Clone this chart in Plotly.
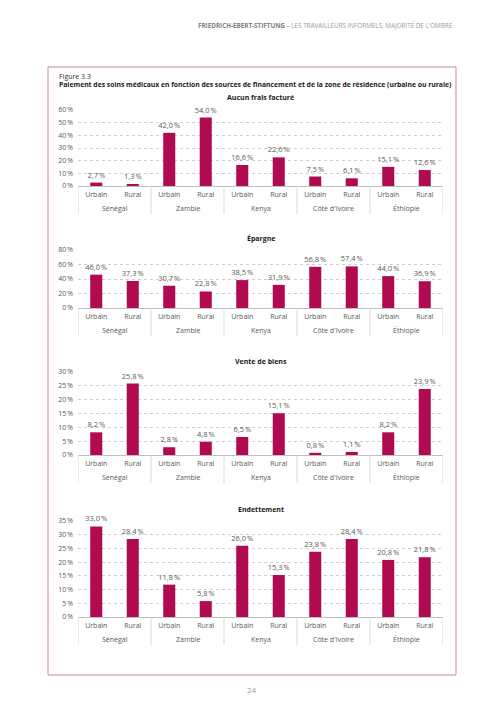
import plotly.graph_objects as go

countries = ["Sénégal", "Zambie", "Kenya", "Côte d'Ivoire", "Éthiopie"]
zones = ["Urbain", "Rural"]

panel_titles = ["Aucun frais facturé", "Épargne", "Vente de biens", "Endettement"]
aucun_frais = [2.7, 1.3, 42.0, 54.0, 16.6, 22.6, 7.5, 6.1, 15.1, 12.6]
epargne = [46.0, 37.3, 30.7, 22.8, 38.5, 31.9, 56.8, 57.4, 44.0, 36.9]
vente_biens = [8.2, 25.8, 2.8, 4.8, 6.5, 15.1, 0.8, 1.1, 8.2, 23.9]
endettement = [33.0, 28.4, 11.8, 5.8, 26.0, 15.3, 23.8, 28.4, 20.8, 21.8]

y_max = [60, 80, 30, 35]
y_step = [10, 20, 5, 5]

series = [aucun_frais, epargne, vente_biens, endettement]

W, H = 504, 712
FONT = "Open Sans"
BAR = "#B00A50"
GREY = "#595959"
DIV = "#d9d9d9"

# panel vertical placement in pixels (top of plot, bottom of plot, title y)
panel_px = [(110, 186, 98), (250, 308, 238), (372, 455, 361), (521, 617, 509)]
x_left, x_right = 78, 443

cats = [c + " | " + z for c in countries for z in zones]
inner = [z for _ in countries for z in zones]

def fmt(v):
    return f"{v:.1f}".replace(".", ",") + "\u202f%"

fig = go.Figure()
layout = dict(
    width=W, height=H,
    margin=dict(l=0, r=0, t=0, b=0, pad=0, autoexpand=False),
    paper_bgcolor="white", plot_bgcolor="white",
    showlegend=False,
    font=dict(family=FONT, size=7, color=GREY),
    annotations=[], shapes=[],
)

for i, vals in enumerate(series):
    n = "" if i == 0 else str(i + 1)
    xr, yr = "x" + n, "y" + n
    top, bot, ty = panel_px[i]
    fig.add_trace(go.Bar(
        x=cats, y=vals,
        marker=dict(color=BAR, line=dict(width=0)),
        text=[fmt(v) for v in vals], textposition="outside",
        constraintext="none",
        textfont=dict(size=7.5, color=GREY, family=FONT),
        cliponaxis=False, width=0.33,
        xaxis=xr, yaxis=yr,
    ))
    layout["xaxis" + n] = dict(
        type="category",
        categoryorder="array", categoryarray=cats,
        range=[-0.5, len(cats) - 0.5],
        domain=[x_left / W, x_right / W],
        anchor=yr,
        tickvals=cats, ticktext=inner,
        showline=True, linecolor="#bfbfbf", linewidth=1,
        showgrid=False, ticks="",
        tickfont=dict(size=7, color=GREY, family=FONT),
        ticklabelstandoff=2,
        automargin=False,
        fixedrange=True,
    )
    layout["yaxis" + n] = dict(
        domain=[1 - bot / H, 1 - top / H],
        anchor=xr,
        range=[0, y_max[i]],
        dtick=y_step[i], tick0=0,
        ticksuffix="\u202f%",
        showgrid=True, gridcolor="#cfcfcf", griddash="dot", gridwidth=1,
        zeroline=False, showline=False, ticks="",
        tickfont=dict(size=7, color=GREY, family=FONT),
        ticklabelstandoff=4,
        automargin=False,
        fixedrange=True,
    )
    layout["annotations"].append(dict(
        text="<b>" + panel_titles[i] + "</b>",
        x=(x_left + x_right) / 2 / W, y=1 - ty / H,
        xref="paper", yref="paper", showarrow=False,
        xanchor="center", yanchor="middle",
        font=dict(size=7, color="#1a1a1a", family=FONT),
    ))
    # country group labels and dividers
    for k, c in enumerate(countries):
        layout["annotations"].append(dict(
            text=c, x=k * len(zones) + (len(zones) - 1) / 2, y=1 - (bot + 22) / H,
            xref=xr, yref="paper", showarrow=False,
            xanchor="center", yanchor="middle",
            font=dict(size=7, color=GREY, family=FONT),
        ))
    for k in range(len(countries) + 1):
        layout["shapes"].append(dict(
            type="line", xref=xr, yref="paper",
            x0=k * len(zones) - 0.5, x1=k * len(zones) - 0.5,
            y0=1 - bot / H, y1=1 - (bot + 28) / H,
            line=dict(color=DIV, width=1),
        ))

# frame box
layout["shapes"].append(dict(
    type="rect", xref="paper", yref="paper",
    x0=48 / W, x1=456 / W, y0=1 - 675 / H, y1=1 - 67 / H,
    line=dict(color="#c9869f", width=1), fillcolor="rgba(0,0,0,0)",
))

layout["annotations"] += [
    dict(text="<b>FRIEDRICH-EBERT-STIFTUNG</b> <span style='color:#9a9a9a'>– LES TRAVAILLEURS INFORMELS, MAJORITÉ DE L'OMBRE</span>",
         x=455 / W, y=1 - 25 / H, xref="paper", yref="paper", showarrow=False,
         xanchor="right", yanchor="middle", font=dict(size=6.3, color="#808080", family=FONT)),
    dict(text="Figure 3.3", x=57 / W, y=1 - 76 / H, xref="paper", yref="paper",
         showarrow=False, xanchor="left", yanchor="middle",
         font=dict(size=7, color="#333333", family=FONT)),
    dict(text="<b>Paiement des soins médicaux en fonction des sources de financement et de la zone de résidence (urbaine ou rurale)</b>",
         x=57 / W, y=1 - 85 / H, xref="paper", yref="paper",
         showarrow=False, xanchor="left", yanchor="middle",
         font=dict(size=6.8, color="#1a1a1a", family=FONT)),
    dict(text=".", x=59 / W, y=1 - 644 / H, xref="paper", yref="paper",
         showarrow=False, xanchor="center", yanchor="middle",
         font=dict(size=6, color="#b0b0b0", family=FONT)),
    dict(text="24", x=252 / W, y=1 - 689 / H, xref="paper", yref="paper",
         showarrow=False, xanchor="center", yanchor="middle",
         font=dict(size=8, color="#9a9a9a", family=FONT)),
]

fig.update_layout(**layout)
fig.write_html(
    "out.html",
    config={"displayModeBar": False},
    post_script="document.body.style.margin='0';document.body.style.overflow='hidden';",
)
